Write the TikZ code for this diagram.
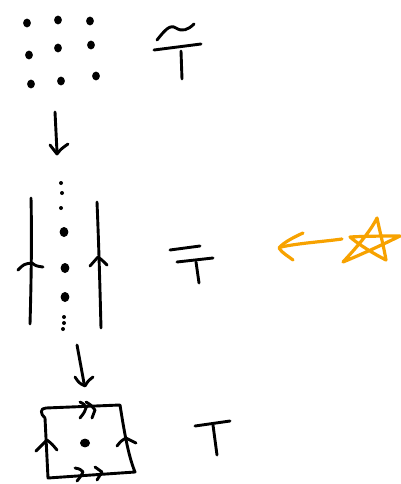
\documentclass[tikz,border=0pt]{standalone}
\definecolor{marker}{HTML}{F7A200}
\begin{document}
\begin{tikzpicture}[x=1pt,y=-1pt,
  ink/.style={line width=2.9pt,line cap=round,line join=round},
  orangeink/.style={ink,draw=marker,line width=3.2pt},
]
\useasboundingbox (0,0) rectangle (400,484);

% ---- top: grid of points ----
\foreach \p in {(27,23),(58,20),(90,21),(29,55),(58,48),(91,45),(31,84),(61,81),(96,76)}
  \fill \p ellipse [x radius=3.9pt, y radius=4.4pt];
% tilde-T
\draw[ink] (157,40) .. controls (165,30) and (170,24) .. (176,28) .. controls (182,32) and (188,30) .. (194,24);
\draw[ink] (154,50) -- (201,44);
\draw[ink] (181,51) -- (182,79);

% arrow down
\draw[ink] (55,112) -- (57,152);
\draw[ink] (50,145) .. controls (53,149) .. (57,154) .. controls (61,149) .. (68,144);

% ---- middle: strip ----
\draw[ink] (31,198) .. controls (32,240) and (31,290) .. (30,324);
\draw[ink] (97,202) .. controls (99,250) and (100,290) .. (101,328);
% orientation marks on the strip edges
\draw[ink] (18,270) .. controls (24,264) .. (32,263) .. controls (36,266) .. (43,267);
\draw[ink] (90,266) .. controls (94,262) .. (98,257) .. controls (102,260) .. (107,265);
% points along the strip
\foreach \p in {(61,183),(62,193),(61,208),(64,317),(64,323),(63,329)}
  \fill \p circle (2pt);
\foreach \p in {(64,232),(65,268),(65,297)}
  \fill \p ellipse [x radius=4.4pt, y radius=5pt];
% barred T
\draw[ink] (170,250) -- (200,246);
\draw[ink] (177,262) -- (213,258);
\draw[ink] (196,262) -- (199,283);

% arrow down
\draw[ink] (77,345) -- (84,383);
\draw[ink] (75,377) .. controls (79,383) .. (85,386) .. controls (88,381) .. (93,377);

% ---- bottom: square with identified edges ----
\draw[ink] (45,418) .. controls (40,414) and (40,408) .. (46,408) -- (120,405)
  .. controls (124,430) and (128,455) .. (135,472) -- (48,478) -- (45,418);
\draw[ink] (80,402) .. controls (84,404) .. (86,408) .. controls (84,413) .. (80,418);
\draw[ink] (86,402) .. controls (91,405) .. (95,410) .. controls (94,414) .. (92,418);
\draw[ink] (75,468) .. controls (80,469) .. (83,472) .. controls (81,476) .. (77,481);
\draw[ink] (95,467) .. controls (99,469) .. (102,472) .. controls (100,476) .. (97,480);
\draw[ink] (36,451) .. controls (41,446) .. (47,440) .. controls (52,444) .. (57,450);
\draw[ink] (117,446) .. controls (121,441) .. (126,438) .. controls (131,440) .. (136,443);
\fill (85,443) ellipse [x radius=5pt, y radius=4.4pt];
% T
\draw[ink] (195,426) -- (230,421);
\draw[ink] (213,425) -- (217,455);

% ---- orange arrow and star ----
\draw[orangeink] (342,239) .. controls (320,242) and (300,243) .. (281,247);
\draw[orangeink] (303,233) .. controls (292,238) and (283,243) .. (279,248)
  .. controls (282,253) and (288,256) .. (293,260);
\draw[orangeink] (343,262) .. controls (356,248) and (370,232) .. (377,218)
  .. controls (380,232) and (384,248) .. (386,260)
  .. controls (374,254) and (358,244) .. (350,237)
  .. controls (368,236) and (388,236) .. (400,236)
  .. controls (382,245) and (360,255) .. (343,262);
\end{tikzpicture}
\end{document}
